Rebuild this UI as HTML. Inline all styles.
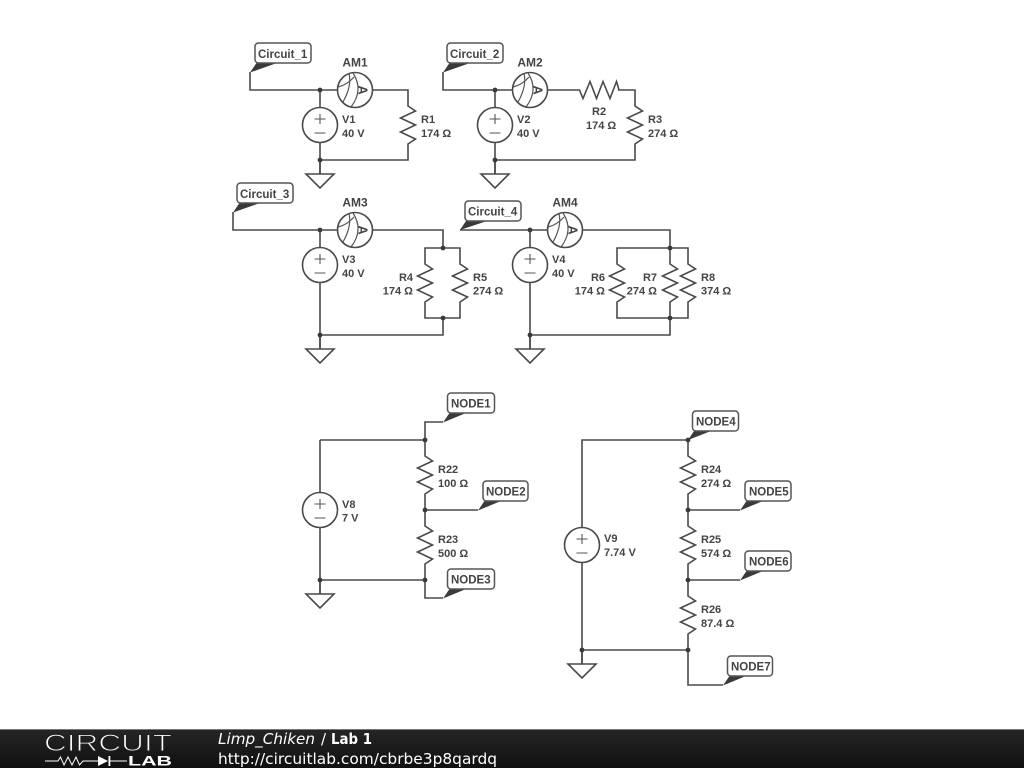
<!DOCTYPE html>
<html><head><meta charset="utf-8"><style>
html,body{margin:0;padding:0;background:#fff;width:1024px;height:768px;overflow:hidden}
svg{display:block}
.w{fill:none;stroke:#4a4a4a;stroke-width:1.6;stroke-linejoin:miter}
.t{font:bold 11px "Liberation Sans",sans-serif;fill:#444}
.l{font:bold 11.5px "Liberation Sans",sans-serif;fill:#444}
.b{fill:#fff;stroke:#555;stroke-width:1.5}
.f{fill:#3a3a3a}
.e{text-anchor:end}
.a{font:bold 12px "Liberation Sans",sans-serif;fill:#444;text-anchor:middle}
.r{font:bold 13px "Liberation Sans",sans-serif;fill:#444;text-anchor:middle}
.h{font-family:"DejaVu Sans",sans-serif;font-size:15px;fill:#fff}
</style></head><body>
<svg width="1024" height="768" viewBox="0 0 1024 768" xmlns="http://www.w3.org/2000/svg">
<defs>
<linearGradient id="g" x1="0" y1="0" x2="0" y2="1"><stop offset="0" stop-color="#262626"/><stop offset="1" stop-color="#101010"/></linearGradient>
<g id="rv"><path class="w" d="M0-20V-19L7.5-14L-7.5-7L7.5 0L-7.5 7L7.5 14L0 19V20"/></g>
<g id="rh"><path class="w" d="M-20 0H-18.500L-15 8.500L-8-8.500L-1.500 8.500L5-8.500L12 8.500L18.500-8.500L21 0"/></g>
<g id="vs"><circle class="w" r="17.5" fill="#fff"/><path fill="none" stroke="#555" stroke-width="1.1" d="M-5.5-6H5.5M0-11V-1M-5.5 8H5.5"/></g>
<g id="am"><circle class="w" r="17.5"/><path fill="none" stroke="#555" stroke-width="1.2" d="M-17-3Q-8-5-1-13M-6-16.5Q-3-4-12 12M-2-17Q9 0-4 17"/></g>
<g id="gnd"><path class="w" d="M0-14V0M-14 0H14L0 14Z"/></g>
<g id="j"><circle r="2.4" fill="#3a3a3a"/></g>
</defs>

<rect width="1024" height="768" fill="#fff"/>

<!-- Circuit 1 -->
<path class="w" d="M250 72V90H338M373 90H408V105M408 145V160H320M320 90V107.500M320 142.500V174"/>
<use href="#am" x="355" y="90"/><text class="r" transform="translate(358.500,90) rotate(90)">A</text>
<use href="#vs" x="320" y="125"/><use href="#rv" x="408" y="125"/><use href="#gnd" x="320" y="174"/>
<use href="#j" x="320" y="90"/><use href="#j" x="320" y="160"/>
<polygon class="f" points="250,72.500 256.500,63 277,63"/>
<rect class="b" x="255" y="43" width="56" height="20" rx="3.500"/><text class="l" x="258" y="58">Circuit_1</text>
<text class="a" x="355" y="66.500">AM1</text>
<text class="t" x="342" y="123">V1</text><text class="t" x="342" y="137">40 V</text>
<text class="t" x="421" y="123">R1</text><text class="t" x="421" y="137">174 Ω</text>

<!-- Circuit 2 -->
<path class="w" d="M443 72V90H513M548 90H578M618 90H635V105M635 145V160H495M495 90V107.500M495 142.500V174"/>
<use href="#am" x="530" y="90"/><text class="r" transform="translate(533.500,90) rotate(90)">A</text>
<use href="#vs" x="495" y="125"/><use href="#rh" x="598" y="90"/><use href="#rv" x="635" y="125"/><use href="#gnd" x="495" y="174"/>
<use href="#j" x="495" y="90"/><use href="#j" x="495" y="160"/>
<polygon class="f" points="443,72.500 449.500,63 470,63"/>
<rect class="b" x="447" y="43" width="56" height="20" rx="3.500"/><text class="l" x="450" y="58">Circuit_2</text>
<text class="a" x="530" y="66.500">AM2</text>
<text class="t" x="517" y="123">V2</text><text class="t" x="517" y="137">40 V</text>
<text class="t" x="592" y="115">R2</text><text class="t" x="586" y="129">174 Ω</text>
<text class="t" x="648" y="123">R3</text><text class="t" x="648" y="137">274 Ω</text>

<!-- Circuit 3 -->
<path class="w" d="M233 212V230H338M373 230H443V248M425 263V248H460V263M425 303V318H460V303M443 318V335H320M320 230V247.500M320 282.500V349"/>
<use href="#am" x="355" y="230"/><text class="r" transform="translate(358.500,230) rotate(90)">A</text>
<use href="#vs" x="320" y="265"/><use href="#rv" x="425" y="283"/><use href="#rv" x="460" y="283"/><use href="#gnd" x="320" y="349"/>
<use href="#j" x="320" y="230"/><use href="#j" x="320" y="335"/><use href="#j" x="443" y="248"/><use href="#j" x="443" y="318"/>
<polygon class="f" points="233,212.500 239.500,203 260,203"/>
<rect class="b" x="237" y="183" width="56" height="20" rx="3.500"/><text class="l" x="240" y="198">Circuit_3</text>
<text class="a" x="355" y="206.500">AM3</text>
<text class="t" x="342" y="263">V3</text><text class="t" x="342" y="277">40 V</text>
<text class="t e" x="413" y="281">R4</text><text class="t e" x="413" y="294.500">174 Ω</text>
<text class="t" x="473" y="281">R5</text><text class="t" x="473" y="294.500">274 Ω</text>

<!-- Circuit 4 -->
<path class="w" d="M460 230H548M583 230H670V248M617 263V248H688V263M670 248V263M617 303V318H688V303M670 303V335H530M530 230V247.500M530 282.500V349"/>
<use href="#am" x="565" y="230"/><text class="r" transform="translate(568.500,230) rotate(90)">A</text>
<use href="#vs" x="530" y="265"/><use href="#rv" x="617" y="283"/><use href="#rv" x="670" y="283"/><use href="#rv" x="688" y="283"/><use href="#gnd" x="530" y="349"/>
<use href="#j" x="530" y="230"/><use href="#j" x="530" y="335"/><use href="#j" x="670" y="248"/><use href="#j" x="670" y="318"/>
<polygon class="f" points="460,230 466,221 487,221"/>
<rect class="b" x="465" y="201" width="56" height="20" rx="3.500"/><text class="l" x="468" y="215.500">Circuit_4</text>
<text class="a" x="565" y="206.500">AM4</text>
<text class="t" x="552" y="263">V4</text><text class="t" x="552" y="277">40 V</text>
<text class="t e" x="605" y="281">R6</text><text class="t e" x="605" y="294.500">174 Ω</text>
<text class="t e" x="657" y="281">R7</text><text class="t e" x="657" y="294.500">274 Ω</text>
<text class="t" x="701" y="281">R8</text><text class="t" x="701" y="294.500">374 Ω</text>

<!-- V8 -->
<path class="w" d="M443 422H425V455M425 495V525M425 510H478M425 565V598H443M425 580H320M320 440H425M320 440V492.500M320 527.500V594"/>
<use href="#vs" x="320" y="510"/><use href="#rv" x="425" y="475"/><use href="#rv" x="425" y="545"/><use href="#gnd" x="320" y="594"/>
<use href="#j" x="425" y="440"/><use href="#j" x="425" y="510"/><use href="#j" x="425" y="580"/><use href="#j" x="320" y="580"/>
<polygon class="f" points="443,422.500 449.500,413 466,413"/>
<rect class="b" x="447.500" y="393" width="47" height="20" rx="3.500"/><text class="l" x="451" y="407.500">NODE1</text>
<polygon class="f" points="478,510.500 484.500,501 501,501"/>
<rect class="b" x="483" y="481" width="45" height="20" rx="3.500"/><text class="l" x="486" y="495.500">NODE2</text>
<polygon class="f" points="443,598.500 449.500,589 466,589"/>
<rect class="b" x="447.500" y="569" width="47" height="20" rx="3.500"/><text class="l" x="451" y="583.500">NODE3</text>
<text class="t" x="342" y="508">V8</text><text class="t" x="342" y="521.500">7 V</text>
<text class="t" x="438" y="473">R22</text><text class="t" x="438" y="487">100 Ω</text>
<text class="t" x="438" y="543">R23</text><text class="t" x="438" y="557">500 Ω</text>

<!-- V9 -->
<path class="w" d="M582 527.500V440H688V455M582 562.500V664M688 495V525M688 510H740M688 565V595M688 580H740M688 635V685H723M688 650H582"/>
<use href="#vs" x="582" y="545"/><use href="#rv" x="688" y="475"/><use href="#rv" x="688" y="545"/><use href="#rv" x="688" y="615"/><use href="#gnd" x="582" y="664"/>
<use href="#j" x="688" y="440"/><use href="#j" x="688" y="510"/><use href="#j" x="688" y="580"/><use href="#j" x="688" y="650"/><use href="#j" x="582" y="650"/>
<polygon class="f" points="688,440 694,431 711,431"/>
<rect class="b" x="692.500" y="411" width="46" height="20" rx="3.500"/><text class="l" x="696" y="425.500">NODE4</text>
<polygon class="f" points="740,510.500 746.500,501 763,501"/>
<rect class="b" x="745" y="481" width="46" height="20" rx="3.500"/><text class="l" x="749" y="495.500">NODE5</text>
<polygon class="f" points="740,580.500 746.500,571 763,571"/>
<rect class="b" x="745" y="551" width="46" height="20" rx="3.500"/><text class="l" x="749" y="565.500">NODE6</text>
<polygon class="f" points="723,685.500 729.500,676 746,676"/>
<rect class="b" x="727.500" y="656" width="45" height="20" rx="3.500"/><text class="l" x="731" y="670.500">NODE7</text>
<text class="t" x="604" y="542">V9</text><text class="t" x="604" y="556">7.74 V</text>
<text class="t" x="701" y="473">R24</text><text class="t" x="701" y="487">274 Ω</text>
<text class="t" x="701" y="543">R25</text><text class="t" x="701" y="557">574 Ω</text>
<text class="t" x="701" y="613">R26</text><text class="t" x="701" y="627">87.4 Ω</text>

<!-- Footer -->
<rect x="0" y="729" width="1024" height="39" fill="url(#g)"/>
<rect x="0" y="729" width="1024" height="1" fill="#777"/>
<text x="44" y="751" font-family="Liberation Sans,sans-serif" font-size="24.500" fill="#fff" stroke="#1f1f1f" stroke-width="1" textLength="128" lengthAdjust="spacingAndGlyphs">CIRCUIT</text>
<path fill="none" stroke="#fff" stroke-width="1" d="M45 761H58L60.500 757L64 765L68 757L72 765L76 757L79.500 765L83 761H98M110 761H127"/>
<polygon points="98,756 98,766 108,761" fill="#fff"/><rect x="108.500" y="756" width="1.800" height="10" fill="#fff"/>
<text x="128" y="765.500" font-family="Liberation Sans,sans-serif" font-weight="bold" font-size="13.500" fill="#fff" textLength="44" lengthAdjust="spacingAndGlyphs">LAB</text>
<text class="h" x="218" y="744" style="font-style:italic" textLength="97" lengthAdjust="spacingAndGlyphs">Limp_Chiken</text>
<text class="h" x="321" y="744">/</text>
<text class="h" x="331" y="744" style="font-weight:bold" textLength="41" lengthAdjust="spacingAndGlyphs">Lab 1</text>
<text class="h" x="218" y="764" textLength="279" lengthAdjust="spacingAndGlyphs">http://circuitlab.com/cbrbe3p8qardq</text>
</svg>
</body></html>
